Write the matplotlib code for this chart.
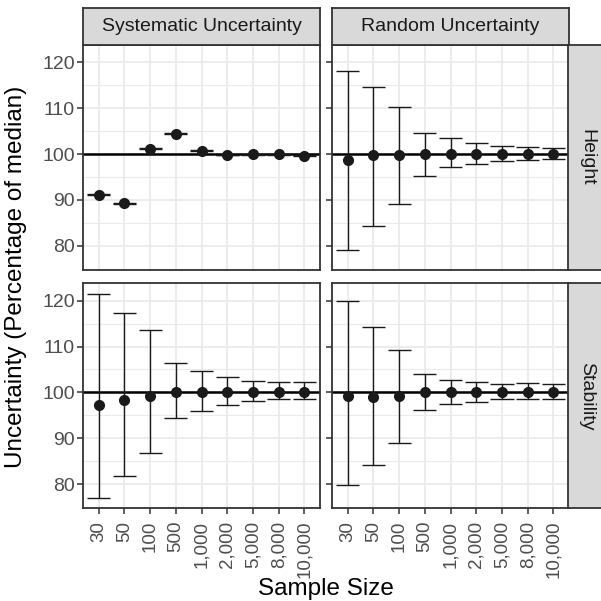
import matplotlib.pyplot as plt

plt.rcParams['font.family'] = ['Liberation Sans', 'DejaVu Sans']

sizes = ["30", "50", "100", "500", "1,000", "2,000", "5,000", "8,000", "10,000"]
cols = ["Systematic Uncertainty", "Random Uncertainty"]
rows = ["Height", "Stability"]

# Height, systematic
h_sys_mid = [91.1, 89.3, 101.2, 104.4, 100.7, 99.8, 100.0, 100.0, 99.6]
h_sys_lo = [91.0, 89.2, 101.0, 104.3, 100.6, 99.7, 99.9, 99.9, 99.5]
h_sys_hi = [91.2, 89.4, 101.4, 104.5, 100.9, 99.9, 100.1, 100.1, 99.7]
# Height, random
h_ran_mid = [98.8, 99.7, 99.85, 100.0, 100.0, 100.0, 100.0, 100.0, 100.0]
h_ran_lo = [79.0, 84.4, 89.2, 95.3, 97.1, 97.9, 98.5, 98.8, 98.9]
h_ran_hi = [118.2, 114.7, 110.2, 104.6, 103.55, 102.5, 101.7, 101.5, 101.4]
# Stability, systematic
s_sys_mid = [97.3, 98.4, 99.1, 100.0, 100.0, 100.0, 100.0, 100.0, 100.0]
s_sys_lo = [76.9, 81.7, 86.7, 94.3, 95.9, 97.2, 98.1, 98.5, 98.6]
s_sys_hi = [121.55, 117.25, 113.5, 106.3, 104.6, 103.4, 102.5, 102.3, 102.2]
# Stability, random
s_ran_mid = [99.3, 98.9, 99.1, 100.0, 100.0, 100.0, 100.0, 100.0, 100.0]
s_ran_lo = [79.8, 84.1, 89.0, 96.1, 97.5, 98.0, 98.55, 98.55, 98.5]
s_ran_hi = [119.9, 114.3, 109.3, 104.1, 102.7, 102.2, 101.8, 102.0, 101.9]

panels = [
    [(h_sys_mid, h_sys_lo, h_sys_hi), (h_ran_mid, h_ran_lo, h_ran_hi)],
    [(s_sys_mid, s_sys_lo, s_sys_hi), (s_ran_mid, s_ran_lo, s_ran_hi)],
]

W = 601.0
fig = plt.figure(figsize=(6.01, 6.01), dpi=100)

lefts = [83.3 / W, 332.3 / W]
pw = 236.5 / W
bottoms = [1 - 270 / W, 1 - 508.3 / W]
ph = 225 / W
strip = 37 / W

border = '#333333'
grid = '#EBEBEB'
txt = '#4D4D4D'

x = list(range(len(sizes)))
for r in range(2):
    for c in range(2):
        ax = fig.add_axes([lefts[c], bottoms[r], pw, ph])
        mid, lo, hi = panels[r][c]
        ax.set_xlim(-0.6, 8.6)
        ax.set_ylim(74.7, 123.8)
        ax.set_yticks([80, 90, 100, 110, 120])
        ax.set_yticks([75, 85, 95, 105, 115], minor=True)
        ax.set_xticks(x)
        ax.grid(True, which='major', color=grid, lw=1.3)
        ax.grid(True, which='minor', axis='y', color=grid, lw=0.8)
        ax.set_axisbelow(True)
        ax.axhline(100, color='black', lw=1.8, zorder=2)
        ax.vlines(x, lo, hi, color='#1a1a1a', lw=1.0, zorder=3)
        ax.hlines(lo, [i - 0.45 for i in x], [i + 0.45 for i in x], color='#1a1a1a', lw=1.0, zorder=3)
        ax.hlines(hi, [i - 0.45 for i in x], [i + 0.45 for i in x], color='#1a1a1a', lw=1.0, zorder=3)
        ax.plot(x, mid, 'o', color='#1a1a1a', ms=7, zorder=4)
        for s in ax.spines.values():
            s.set_color(border)
            s.set_linewidth(1.3)
        ax.tick_params(which='major', color=border, length=4, width=1.1,
                       labelcolor=txt, labelsize=14, pad=2)
        ax.tick_params(axis='x', labelsize=13.5, pad=5)
        ax.tick_params(which='minor', length=0)
        if c == 0:
            ax.set_yticklabels(["80", "90", "100", "110", "120"])
        else:
            ax.set_yticklabels([])
        if r == 1:
            ax.set_xticklabels(sizes, rotation=90, va='top')
        else:
            ax.set_xticklabels([])
            ax.tick_params(axis='x', length=0)

# column strips
for c in range(2):
    sa = fig.add_axes([lefts[c], 1 - 45 / W, pw, strip])
    sa.set_facecolor('#D9D9D9')
    sa.set_xticks([])
    sa.set_yticks([])
    for s in sa.spines.values():
        s.set_color(border)
        s.set_linewidth(1.3)
    sa.text(0.5, 0.5, cols[c], ha='center', va='center', fontsize=14,
            color='#1A1A1A', transform=sa.transAxes)

# row strips
for r in range(2):
    sa = fig.add_axes([568.3 / W, bottoms[r], strip, ph])
    sa.set_facecolor('#D9D9D9')
    sa.set_xticks([])
    sa.set_yticks([])
    for s in sa.spines.values():
        s.set_color(border)
        s.set_linewidth(1.3)
    sa.text(0.5, 0.5, rows[r], ha='center', va='center', fontsize=14,
            color='#1A1A1A', rotation=270, transform=sa.transAxes)

fig.text(0.027, 1 - 276.6 / W, "Uncertainty (Percentage of median)", rotation=90,
         ha='center', va='center', fontsize=17.5, color='black')
fig.text((83.3 + 568.3) / 2 / W, 1 - 595 / W, "Sample Size",
         ha='center', va='baseline', fontsize=17.5, color='black')

fig.savefig('out.png', dpi=100)
